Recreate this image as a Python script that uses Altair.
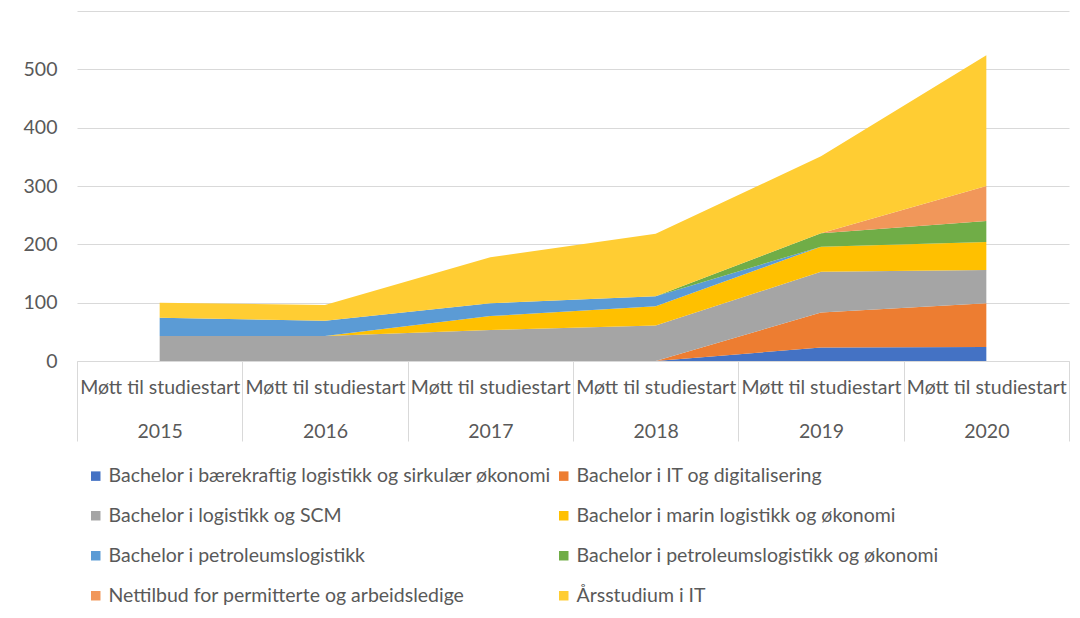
import altair as alt
import pandas as pd

years = ["2015", "2016", "2017", "2018", "2019", "2020"]
series = [
    "Bachelor i bærekraftig logistikk og sirkulær økonomi",
    "Bachelor i IT og digitalisering",
    "Bachelor i logistikk og SCM",
    "Bachelor i marin logistikk og økonomi",
    "Bachelor i petroleumslogistikk",
    "Bachelor i petroleumslogistikk og økonomi",
    "Nettilbud for permitterte og arbeidsledige",
    "Årsstudium i IT",
]
colors = ["#4472C4", "#ED7D31", "#A5A5A5", "#FFC000", "#5B9BD5", "#70AD47", "#F1975A", "#FFCD33"]

baerekraftig = [0, 0, 0, 0, 23, 24]
it_digital = [0, 0, 0, 0, 60, 75]
logistikk_scm = [43, 43, 53, 61, 70, 57]
marin = [0, 0, 24, 33, 43, 48]
petroleum = [31, 26, 22, 17, 0, 0]
petroleum_ok = [0, 0, 0, 0, 23, 36]
nettilbud = [0, 0, 0, 0, 0, 60]
arsstudium = [26, 27, 79, 107, 132, 224]

values = [baerekraftig, it_digital, logistikk_scm, marin, petroleum, petroleum_ok, nettilbud, arsstudium]

rows = []
for i, (s, vals) in enumerate(zip(series, values)):
    for y, v in zip(years, vals):
        rows.append({"year": y, "series": s, "idx": i, "value": v})
df = pd.DataFrame(rows)

FONT = "Lato"
FS = 19.5
TXT = "#595959"
GRID = "#D9D9D9"

chart = alt.Chart(df).mark_area(interpolate="linear").encode(
    x=alt.X(
        "year:N",
        bandPosition=0.5,
        scale=alt.Scale(type="band", paddingInner=0, paddingOuter=0),
        axis=alt.Axis(
            title=None,
            labelAngle=0,
            labelExpr="datum.label ? ['Møtt til studiestart', datum.label] : ''",
            labelLineHeight=44,
            labelFont=FONT,
            labelFontSize=FS,
            labelColor=TXT,
            labelPadding=-63,
            labelBaseline="top",
            tickBand="extent",
            tickSize=80,
            tickColor=GRID,
            tickWidth=1,
            domainColor=GRID,
            domainWidth=1,
            grid=False,
        ),
    ),
    y=alt.Y(
        "value:Q",
        stack="zero",
        scale=alt.Scale(domain=[0, 600], nice=False),
        axis=alt.Axis(
            title=None,
            values=[0, 100, 200, 300, 400, 500, 600],
            labelExpr="datum.value == 600 ? '' : datum.label",
            labelFont=FONT,
            labelFontSize=FS,
            labelColor=TXT,
            labelPadding=20,
            ticks=False,
            domain=False,
            gridColor=GRID,
            gridWidth=1,
        ),
    ),
    color=alt.Color(
        "series:N",
        scale=alt.Scale(domain=series, range=colors),
        legend=alt.Legend(
            title=None,
            orient="none",
            legendX=9,
            legendY=455,
            columns=2,
            direction="horizontal",
            symbolType="square",
            symbolSize=90,
            symbolStrokeWidth=0,
            labelFont=FONT,
            labelFontSize=FS,
            labelColor=TXT,
            labelOffset=3,
            labelLimit=700,
            columnPadding=2,
            rowPadding=19,
        ),
    ),
    order=alt.Order("idx:Q", sort="ascending"),
).properties(
    width=992,
    height=350,
    padding={"left": 69, "top": 3, "right": 2, "bottom": 248},
    autosize=alt.AutoSizeParams(type="none"),
    background="white",
).configure_view(stroke=None)

chart.save("out.html", embed_options={"renderer": "svg", "actions": False})
